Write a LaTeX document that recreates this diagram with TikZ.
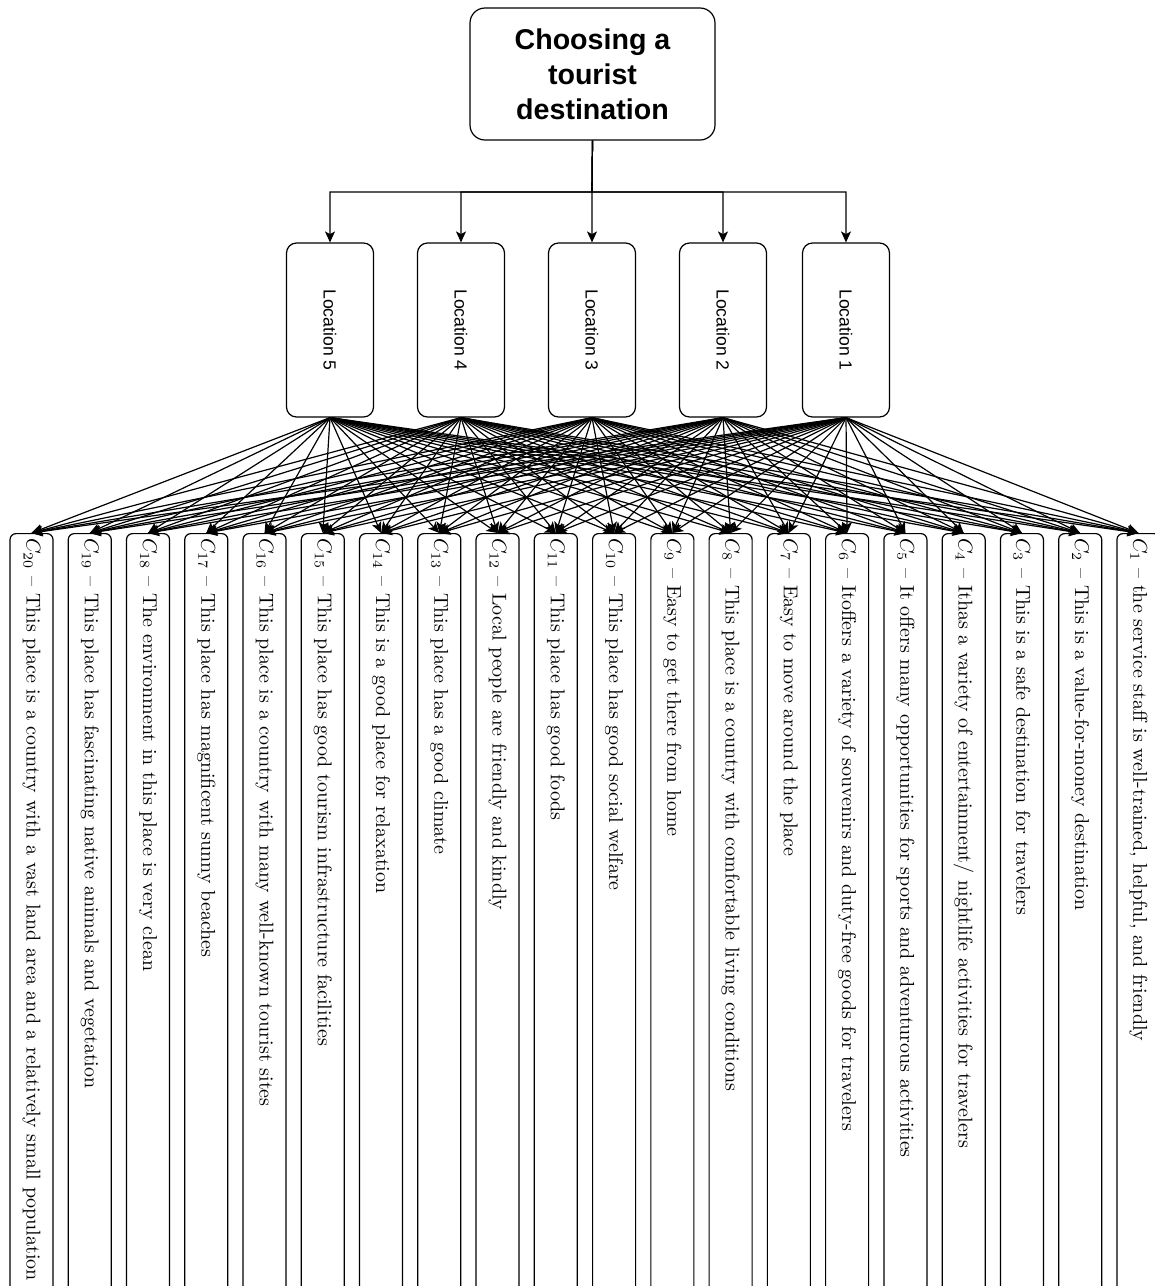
\documentclass[tikz,border=0pt]{standalone}
\usepackage{fontspec}
\setsansfont{Liberation Sans}
\usetikzlibrary{arrows.meta}

\begin{document}
\begin{tikzpicture}[x=0.5pt, y=-0.5pt, >={Stealth[length=5.5pt,width=5pt,inset=1.4pt]},
  goal/.style={draw, line width=0.6pt, rounded corners=7.5pt, minimum width=122.5pt, minimum height=66pt,
    align=center, font=\sffamily\bfseries\fontsize{14.3}{17.5}\selectfont},
  locbox/.style={draw, line width=0.6pt, rounded corners=5pt, minimum width=43.5pt, minimum height=87pt,
    inner sep=0pt, font=\sffamily\fontsize{8.8}{10}\selectfont},
  critbox/.style={draw, line width=0.6pt, rounded corners=3pt, anchor=north, minimum width=21.5pt,
    inner xsep=0pt, inner ysep=2.5pt, font=\fontsize{10}{12}\selectfont},
  link/.style={->, line width=0.6pt}]

\useasboundingbox (0,0) rectangle (1155,1286);
\clip (0,0) rectangle (1155,1286);

% goal
\node [goal] (goal) at (592.5,74) {Choosing a\\tourist\\destination};

% locations
\foreach \l/\lx in {5/330, 4/461, 3/592, 2/723, 1/846}
  \node [locbox] (L\l) at (\lx,330) {\rotatebox{-90}{Location \l}};

\coordinate (bar) at (592,192);
\foreach \l in {1,...,5}
  \draw [link] (goal.south) -- (bar) -| (L\l.north);

% criteria
\foreach \k/\txt [evaluate=\k as \cx using 31.5+(20-\k)*58.26] in {
   1/{the service staff is well-trained, helpful, and friendly},
   2/{This is a value-for-money destination},
   3/{This is a safe destination for travelers},
   4/{Ithas a variety of entertainment/ nightlife activities for travelers},
   5/{It offers many opportunities for sports and adventurous activities},
   6/{Itoffers a variety of souvenirs and duty-free goods for travelers},
   7/{Easy to move around the place},
   8/{This place is a country with comfortable living conditions},
   9/{Easy to get there from home},
  10/{This place has good social welfare},
  11/{This place has good foods},
  12/{Local people are friendly and kindly},
  13/{This place has a good climate},
  14/{This is a good place for relaxation},
  15/{This place has good tourism infrastructure facilities},
  16/{This place is a country with many well-known tourist sites},
  17/{This place has magnificent sunny beaches},
  18/{The environment in this place is very clean},
  19/{This place has fascinating native animals and vegetation},
  20/{This place is a country with a vast land area and a relatively small population}}
  \node [critbox] (C\k) at (\cx,533) {\rotatebox{-90}{\makebox[400pt][l]{$C_{\k}$ -- \txt}}};

% every location to every criterion
\foreach \l in {1,...,5}
  \foreach \k in {1,...,20}
    \draw [link] (L\l.south) -- (C\k.north);

\end{tikzpicture}
\end{document}
